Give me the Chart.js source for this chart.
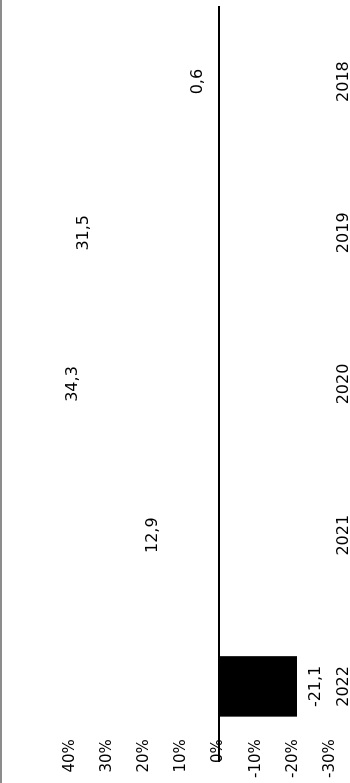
<!DOCTYPE html>
<html>
<head>
<meta charset="utf-8">
<script src="https://cdn.jsdelivr.net/npm/chart.js@4.4.1/dist/chart.umd.min.js"></script>
<style>
  html, body { margin: 0; padding: 0; background: #fff; }
  #page { position: relative; width: 350px; height: 783px; overflow: hidden; }
  #edge { position: absolute; left: 0; top: 0; width: 2px; height: 783px; background: #8c8c8c; }
  /* chart is drawn landscape, then turned a quarter left */
  #box { position: absolute; left: 0; top: 0; width: 783px; height: 350px;
         transform-origin: 0 0; transform: translateY(783px) rotate(-90deg); }
</style>
</head>
<body>
<div id="page">
  <div id="box"><canvas id="c" width="783" height="350"></canvas></div>
  <div id="edge"></div>
</div>
<script>
// data
const years = ['2018', '2019', '2020', '2021', '2022'];
const change = [0.6, 31.5, 34.3, 12.9, -21.1];
const yMin = -30;
const yMax = 40;
const yStep = 10;

const fontFamily = '"DejaVu Sans", sans-serif';

// value labels above / below the bar ends
const valueLabels = {
  id: 'valueLabels',
  afterDatasetsDraw(chart) {
    const ctx = chart.ctx;
    const meta = chart.getDatasetMeta(0);
    ctx.save();
    ctx.font = '16px ' + fontFamily;
    ctx.fillStyle = '#000';
    ctx.textAlign = 'center';
    ctx.textBaseline = 'middle';
    meta.data.forEach((bar, i) => {
      const v = change[i];
      const y = v < 0 ? bar.y + 19 : bar.y - 18;
      ctx.fillText(v.toFixed(1).replace('.', ','), bar.x, y);
    });
    ctx.restore();
  }
};

new Chart(document.getElementById('c'), {
  type: 'bar',
  data: {
    labels: years,
    datasets: [{
      data: change,
      backgroundColor: change.map(v => v < 0 ? '#000' : 'rgba(0,0,0,0)'),
      borderWidth: 0,
      barPercentage: 0.4,
      categoryPercentage: 1
    }]
  },
  options: {
    responsive: false,
    animation: false,
    layout: { padding: { left: 21, right: 6, top: 70, bottom: 0 } },
    plugins: {
      legend: { display: false },
      tooltip: { enabled: false }
    },
    scales: {
      x: {
        reverse: true,
        grid: { display: false, drawTicks: false },
        border: { display: false },
        ticks: {
          color: '#000',
          font: { family: fontFamily, size: 16 },
          padding: 4,
          maxRotation: 0,
          minRotation: 0
        },
        afterFit(s) { s.height = 20; }
      },
      y: {
        min: yMin,
        max: yMax,
        grid: {
          drawTicks: false,
          color: c => c.tick && c.tick.value === 0 ? '#000' : 'rgba(0,0,0,0)',
          lineWidth: c => c.tick && c.tick.value === 0 ? 2 : 0
        },
        border: { display: false },
        ticks: {
          stepSize: yStep,
          mirror: true,
          crossAlign: 'far',
          padding: -16,
          color: '#000',
          font: { family: fontFamily, size: 15 },
          callback: v => v + '%'
        },
        afterFit(s) { s.width = 0; }
      }
    }
  },
  plugins: [valueLabels]
});
</script>
</body>
</html>
